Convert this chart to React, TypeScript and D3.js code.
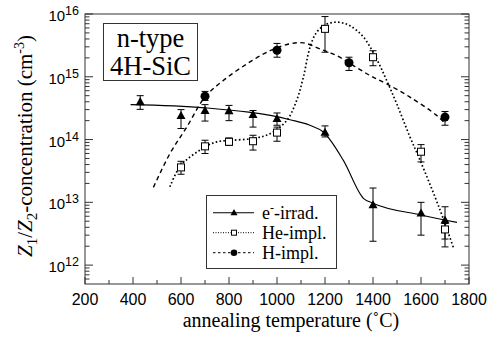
import React, { useMemo } from "react";
import * as d3 from "d3";

// measured points (temperature in C, concentration in cm^-3)
const eTemps = [430, 600, 700, 800, 900, 1000, 1200, 1400, 1600, 1700];
const eValues = [4.0e14, 2.4e14, 2.9e14, 2.85e14, 2.5e14, 2.15e14, 1.3e14, 9.1e12, 6.7e12, 5.2e12];
const eLow = [3.03e14, 1.5e14, 1.97e14, 2.0e14, 1.58e14, 1.69e14, 1.1e14, 2.4e12, 3.0e12, 1.95e12];
const eHigh = [5.0e14, 3.0e14, 3.6e14, 3.5e14, 2.9e14, 2.65e14, 1.65e14, 1.69e13, 1.0e13, 8.5e12];

const heTemps = [600, 700, 800, 900, 1000, 1200, 1400, 1600, 1700];
const heValues = [3.6e13, 7.8e13, 9.2e13, 9.4e13, 1.29e14, 5.8e15, 2.05e15, 6.4e13, 3.7e12];
const heLow = [2.8e13, 6.0e13, 8.1e13, 6.8e13, 9.4e13, 2.46e15, 1.5e15, 4.4e13, 2.6e12];
const heHigh = [4.5e13, 9.75e13, 1.06e14, 1.17e14, 1.58e14, 9.1e15, 2.6e15, 8.3e13, 4.6e12];

const hTemps = [700, 1000, 1300, 1700];
const hValues = [4.9e14, 2.65e15, 1.67e15, 2.28e14];
const hLow = [4.2e14, 2.05e15, 1.26e15, 1.69e14];
const hHigh = [5.85e14, 3.4e15, 2.05e15, 2.8e14];

// fitted curves
const eFitTemps = [390, 700, 1054, 1137, 1193, 1276, 1360, 1400, 1600, 1750];
const eFitValues = [3.6e14, 3.2e14, 2.07e14, 1.69e14, 1.32e14, 4.7e13, 1.16e13, 9.7e12, 6.3e12, 4.8e12];

const heFitTemps = [554, 600, 700, 749, 804, 900, 971, 1040, 1082, 1110, 1137, 1165, 1207, 1255, 1304, 1360, 1415, 1457, 1499, 1554, 1596, 1679, 1735];
const heFitValues = [1.77e13, 3.9e13, 7.6e13, 9.2e13, 9.7e13, 1.04e14, 1.24e14, 2.0e14, 4.2e14, 9.9e14, 2.9e15, 5.1e15, 6.9e15, 7.4e15, 6.5e15, 4.3e15, 1.93e15, 8.7e14, 3.7e14, 1.1e14, 4.7e13, 7.6e12, 1.9e12];

const hFitTemps = [485, 554, 624, 700, 776, 874, 971, 1054, 1110, 1179, 1249, 1318, 1387, 1457, 1554, 1665, 1700];
const hFitValues = [1.73e13, 6.0e13, 1.58e14, 4.75e14, 8.7e14, 1.6e15, 2.6e15, 3.35e15, 3.47e15, 2.78e15, 2.18e15, 1.51e15, 1.05e15, 7.7e14, 4.75e14, 2.43e14, 1.8e14];

const xTicks = [200, 400, 600, 800, 1000, 1200, 1400, 1600, 1800];
const xMinorTicks = [300, 500, 700, 900, 1100, 1300, 1500, 1700];
const yExps = [12, 13, 14, 15, 16];

const legendLabels = ["e", "He-impl.", "H-impl."];

const W = 488, H = 338;
const margin = { top: 14, right: 19, bottom: 54, left: 85 };
const serif = "Liberation Serif, Times New Roman, serif";
const sans = "Liberation Sans, Arial, sans-serif";

const triPath = (r) => `M0,${-r * 1.05}L${r},${r * 0.75}L${-r},${r * 0.75}Z`;

const App = () => {
  const x = useMemo(() =>
    d3.scaleLinear().domain([200, 1800]).range([margin.left, W - margin.right]), []);
  const y = useMemo(() =>
    d3.scaleLog().domain([5e11, 1e16]).range([H - margin.bottom, margin.top]), []);

  const line = (curve) => d3.line().x((d) => x(d[0])).y((d) => y(d[1])).curve(curve);
  const ePath = line(d3.curveMonotoneX)(eFitTemps.map((t, i) => [t, eFitValues[i]]));
  const hePath = line(d3.curveCatmullRom)(heFitTemps.map((t, i) => [t, heFitValues[i]]));
  const hPath = line(d3.curveCatmullRom)(hFitTemps.map((t, i) => [t, hFitValues[i]]));

  const minorY = [];
  for (let e = 11; e <= 15; e++) {
    for (let k = 2; k <= 9; k++) {
      const v = k * Math.pow(10, e);
      if (v > 5e11 && v < 1e16) minorY.push(v);
    }
  }

  const x0 = margin.left, x1 = W - margin.right;
  const y0 = H - margin.bottom, y1 = margin.top;

  const errBar = (t, lo, hi, key) => (
    <g key={key} stroke="#000" strokeWidth={1}>
      <line x1={x(t)} x2={x(t)} y1={y(lo)} y2={y(hi)} />
      <line x1={x(t) - 3.5} x2={x(t) + 3.5} y1={y(lo)} y2={y(lo)} />
      <line x1={x(t) - 3.5} x2={x(t) + 3.5} y1={y(hi)} y2={y(hi)} />
    </g>
  );

  const legendY = [212.7, 232.7, 252.7];

  return (
    <svg width={W} height={H} style={{ position: "absolute", left: 0, top: 0, background: "#fff" }}>
      {/* fit curves */}
      <path d={ePath} fill="none" stroke="#000" strokeWidth={1.1} />
      <path d={hePath} fill="none" stroke="#000" strokeWidth={1.7} strokeDasharray="1.6,2.3" />
      <path d={hPath} fill="none" stroke="#000" strokeWidth={1.4} strokeDasharray="4.5,3.5" />

      {/* error bars */}
      {eTemps.map((t, i) => errBar(t, eLow[i], eHigh[i], "ee" + i))}
      {heTemps.map((t, i) => errBar(t, heLow[i], heHigh[i], "he" + i))}
      {hTemps.map((t, i) => errBar(t, hLow[i], hHigh[i], "hh" + i))}

      {/* markers */}
      {eTemps.map((t, i) => (
        <path key={"et" + i} d={triPath(4.5)} transform={`translate(${x(t)},${y(eValues[i])})`} fill="#000" />
      ))}
      {heTemps.map((t, i) => (
        <rect key={"hs" + i} x={x(t) - 3.5} y={y(heValues[i]) - 3.5} width={7} height={7} fill="#fff" stroke="#000" strokeWidth={1} />
      ))}
      {hTemps.map((t, i) => (
        <circle key={"hc" + i} cx={x(t)} cy={y(hValues[i])} r={4.5} fill="#000" />
      ))}

      {/* frame */}
      <rect x={x0} y={y1} width={x1 - x0} height={y0 - y1} fill="none" stroke="#333" strokeWidth={1} />

      {/* x ticks */}
      {xTicks.map((t) => (
        <g key={"xt" + t}>
          <line x1={x(t)} x2={x(t)} y1={y0} y2={y0 - 7} stroke="#333" />
          <text x={x(t)} y={305} textAnchor="middle" fontFamily={sans} fontSize={16}>{t}</text>
        </g>
      ))}
      {xMinorTicks.map((t) => (
        <line key={"xm" + t} x1={x(t)} x2={x(t)} y1={y0} y2={y0 - 4} stroke="#333" />
      ))}

      {/* y ticks, both sides */}
      {yExps.map((e) => (
        <g key={"yt" + e}>
          <line x1={x0} x2={x0 + 8} y1={y(Math.pow(10, e))} y2={y(Math.pow(10, e))} stroke="#333" />
          <line x1={x1} x2={x1 - 8} y1={y(Math.pow(10, e))} y2={y(Math.pow(10, e))} stroke="#333" />
          <text x={79} y={y(Math.pow(10, e)) + 7} textAnchor="end" fontFamily={sans} fontSize={15}>
            10<tspan dy={-6} fontSize={12.5}>{e}</tspan>
          </text>
        </g>
      ))}
      {minorY.map((v, i) => (
        <g key={"ym" + i} stroke="#333">
          <line x1={x0} x2={x0 + 4.5} y1={y(v)} y2={y(v)} />
          <line x1={x1} x2={x1 - 4.5} y1={y(v)} y2={y(v)} />
        </g>
      ))}

      {/* axis titles */}
      <text x={291} y={327} textAnchor="middle" fontFamily={serif} fontSize={20}>
        annealing temperature (˚C)
      </text>
      <text transform="translate(32,146) rotate(-90)" textAnchor="middle" fontFamily={serif} fontSize={21}>
        <tspan fontStyle="italic">Z</tspan>
        <tspan dy={5} fontSize={15}>1</tspan>
        <tspan dy={-5}>/</tspan>
        <tspan fontStyle="italic">Z</tspan>
        <tspan dy={5} fontSize={15}>2</tspan>
        <tspan dy={-5}>-concentration (cm</tspan>
        <tspan dy={-8} fontSize={14}>-3</tspan>
        <tspan dy={8}>)</tspan>
      </text>

      {/* sample box */}
      <rect x={103.5} y={23.5} width={94} height={57} fill="#fff" stroke="#333" strokeWidth={1} />
      <text x={150.5} y={47} textAnchor="middle" fontFamily={serif} fontSize={26.5}>n-type</text>
      <text x={150.5} y={75} textAnchor="middle" fontFamily={serif} fontSize={26.5}>4H-SiC</text>

      {/* legend */}
      <rect x={206.5} y={195.5} width={130} height={73} fill="#fff" stroke="#333" strokeWidth={1} />
      <line x1={213} x2={254} y1={legendY[0]} y2={legendY[0]} stroke="#000" strokeWidth={1.1} />
      <path d={triPath(3.5)} transform={`translate(234,${legendY[0]})`} fill="#000" />
      <line x1={213} x2={254} y1={legendY[1]} y2={legendY[1]} stroke="#000" strokeWidth={1} strokeDasharray="1,1.5" />
      <rect x={231.5} y={legendY[1] - 2.5} width={5} height={5} fill="#fff" stroke="#000" />
      <line x1={213} x2={254} y1={legendY[2]} y2={legendY[2]} stroke="#000" strokeWidth={1} strokeDasharray="2.5,2.5" />
      <circle cx={234} cy={legendY[2]} r={3.3} fill="#000" />
      {legendLabels.map((s, i) => (
        <text key={"lg" + i} x={262} y={legendY[i] + 6} fontFamily={serif} fontSize={18}>
          {i === 0 ? (
            <>e<tspan dy={-7} fontSize={12}>-</tspan><tspan dy={7}>-irrad.</tspan></>
          ) : s}
        </text>
      ))}
    </svg>
  );
};

export default App;
